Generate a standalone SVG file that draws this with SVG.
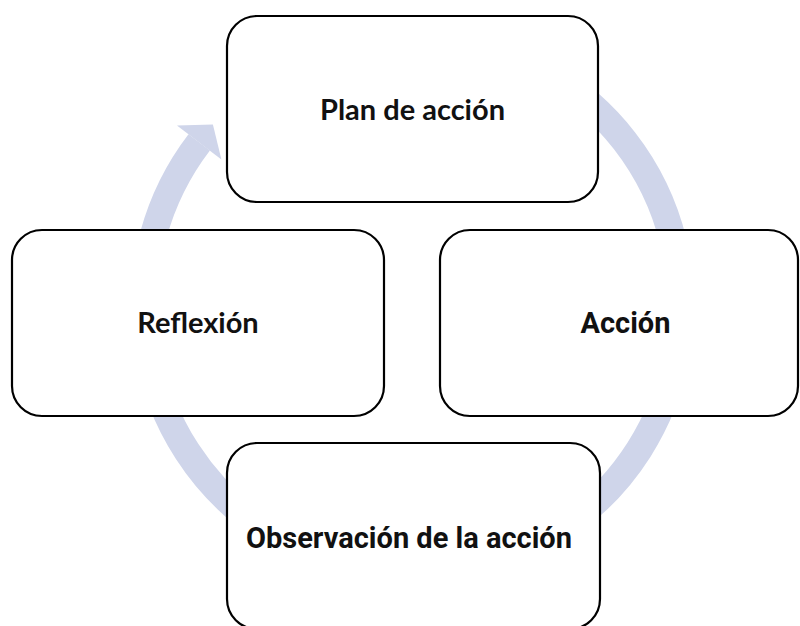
<svg xmlns="http://www.w3.org/2000/svg" width="800" height="626" viewBox="0 0 800 626">
<defs>
<style>
.band{fill:none;stroke:#CFD5EA;stroke-width:27;stroke-linecap:butt}
.head{fill:#CFD5EA}
.box{fill:#fff;stroke:#000;stroke-width:2.2}
.lbl{font-family:Lato,"Noto Sans",sans-serif;font-weight:bold;font-size:29px;fill:#111;text-anchor:middle}
.lbl2{font-family:"Liberation Sans Narrow","Roboto",sans-serif;font-weight:bold;font-size:29px;fill:#111;text-anchor:middle}
</style>
</defs>
<rect width="800" height="626" fill="#fff"/>
<g id="connectors">
<path class="band" d="M 546.75 73 A 268.5 268.5 0 1 1 199.2 142.4"/>
<polygon class="head" points="177,125.4 212.9,124.5 221.4,159.4"/>
</g>
<g id="node-plan">
<rect class="box" x="227" y="16" width="371" height="186" rx="30"/>
<text class="lbl" x="412.5" y="120">Plan de acción</text>
</g>
<g id="node-accion">
<rect class="box" x="440" y="230" width="358" height="186" rx="30"/>
<text class="lbl2" x="625.5" y="333">Acción</text>
</g>
<g id="node-observacion">
<rect class="box" x="227" y="443" width="373" height="186" rx="30"/>
<text class="lbl2" x="409" y="548">Observación de la acción</text>
</g>
<g id="node-reflexion">
<rect class="box" x="12" y="230" width="372" height="186" rx="30"/>
<text class="lbl" x="198" y="333">Reflexión</text>
</g>
</svg>
